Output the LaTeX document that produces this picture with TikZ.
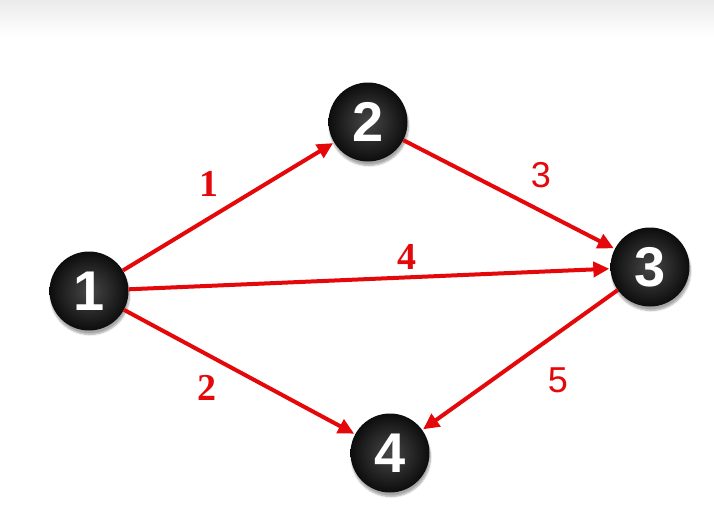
\documentclass[tikz,border=0pt]{standalone}
\usepackage{fontspec}
\usepackage{tikz}
\usetikzlibrary{arrows.meta, positioning, shadows.blur}
\newfontfamily\ballfont{Liberation Sans}
\newfontfamily\wserif{Liberation Serif}
\definecolor{edgered}{RGB}{228,8,10}

\tikzset{
  ball/.style={circle, minimum size=79pt, inner sep=0pt,
    inner color=black!72, outer color=black!95,
    blur shadow={shadow xshift=1pt, shadow yshift=-4pt, shadow blur steps=6, shadow opacity=35},
    text=white, font=\ballfont\bfseries\fontsize{56}{56}\selectfont},
  edge/.style={-{Triangle[length=16pt,width=15pt]}, edgered, line width=4pt, shorten >=1pt},
  wlab/.style={text=edgered, font=\wserif\bfseries\fontsize{38}{38}\selectfont},
  wlabs/.style={text=edgered, font=\ballfont\fontsize{36}{36}\selectfont}
}

\begin{document}
\begin{tikzpicture}[x=1pt, y=-1pt]
\useasboundingbox (0,0) rectangle (714,527);
% faint band at the top
\shade[top color=black!8, bottom color=white] (0,0) rectangle (714,36);

% vertices
\node[ball] (v1) at (89,291) {1};
\node[ball] (v2) at (368,122) {2};
\node[ball] (v3) at (650,267) {3};
\node[ball] (v4) at (390,453) {4};

% arcs
\draw[edge] (v1) -- (v2);
\draw[edge] (v2) -- (v3);
\draw[edge] (v1) -- (v3);
\draw[edge] (v1) -- (v4);
\draw[edge] (v3) -- (v4);

% weights
\node[wlab] (w12) at (209,184) {1};
\node[wlabs] (w23) at (541,175) {3};
\node[wlab] (w13) at (407,257) {4};
\node[wlab] (w14) at (207,388) {2};
\node[wlabs] (w34) at (558,380) {5};
\end{tikzpicture}
\end{document}
